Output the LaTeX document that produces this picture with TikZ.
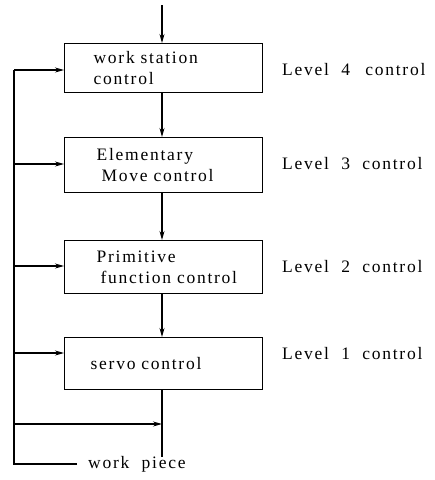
\documentclass[tikz,border=0pt]{standalone}
\usepackage{fontspec}
\setmainfont{Liberation Serif}[LetterSpace=10,WordSpace=2]
\usetikzlibrary{arrows.meta}
\tikzset{
  ctrlbox/.style={draw, line width=1.2pt, minimum width=198pt, anchor=north west,
    text width=140pt, align=left, inner xsep=0pt, font=\fontsize{17.5}{21}\selectfont},
  lvl/.style={anchor=west, inner sep=0pt, font=\fontsize{17.5}{20}\selectfont},
  flow/.style={line width=1.1pt, -{Stealth[length=9pt,width=5pt]}},
  wire/.style={line width=1.1pt}
}
\begin{document}
\begin{tikzpicture}[x=1pt,y=-1pt]
  \useasboundingbox (0,0) rectangle (435,480);
  % control boxes, from the top level down
  \node[ctrlbox, minimum height=49pt] (b4) at (64,43) {work station\\control};
  \node[ctrlbox, minimum height=55pt] (b3) at (64,137) {\hspace*{3pt}Elementary\\\hspace*{8pt}Move control};
  \node[ctrlbox, minimum height=53pt] (b2) at (64,240) {\hspace*{3pt}Primitive\\\hspace*{7pt}function control};
  \node[ctrlbox, minimum height=52pt] (b1) at (64,337) {\hspace*{-3pt}servo control};
  % level captions
  \node[lvl] (l4) at (282,70) {Level 4\hspace{3pt} control};
  \node[lvl] (l3) at (282,164) {Level 3 control};
  \node[lvl] (l2) at (282,267) {Level 2 control};
  \node[lvl] (l1) at (282,354) {Level 1 control};
  % command flow down the hierarchy
  \coordinate (in) at (162,5);
  \coordinate (out) at (162,457);
  \coordinate (tap) at (162,424);
  \draw[flow] (in) -- (b4.north -| in);
  \draw[flow] (b4.south -| in) -- (b3.north -| in);
  \draw[flow] (b3.south -| in) -- (b2.north -| in);
  \draw[flow] (b2.south -| in) -- (b1.north -| in);
  \draw[wire] (b1.south -| in) -- (out);
  % feedback from the work piece to every level
  \node[anchor=west, inner sep=0pt, font=\fontsize{17.5}{20}\selectfont] (wp) at (88,464) {work piece};
  \coordinate (fb) at (14,464);
  \coordinate (top) at (14,70);
  \draw[wire] (wp.west) ++(-11,0) -- (fb) -- (top);
  \draw[flow] (top) -- (b4.west |- top);
  \draw[flow] (14,164) -- (b3.west |- 0,164);
  \draw[flow] (14,266) -- (b2.west |- 0,266);
  \draw[flow] (14,353) -- (b1.west |- 0,353);
  \draw[flow] (14,424) -- (tap);
\end{tikzpicture}
\end{document}
